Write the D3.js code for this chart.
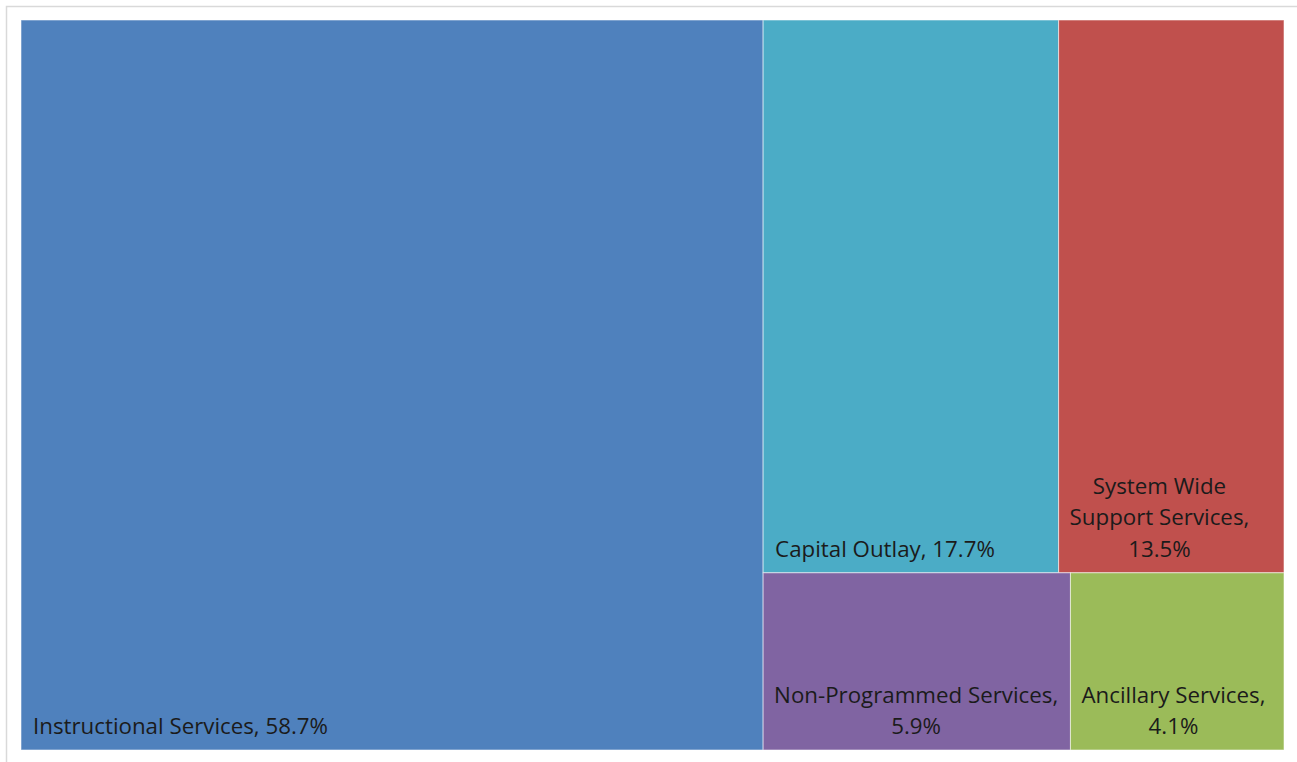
<!DOCTYPE html>
<html>
<head>
<meta charset="utf-8">
<script src="https://cdn.jsdelivr.net/npm/d3@7"></script>
<style>
  html, body { margin: 0; padding: 0; background: #ffffff; }
  svg { display: block; }
  text { font-family: "Open Sans", Lato, sans-serif; fill: #1b1b1b; }
</style>
</head>
<body>
<svg id="chart" width="1297" height="762"></svg>
<script>
// Budget share by function (percent of total)
const categories = ["Instructional Services", "Capital Outlay", "System Wide Support Services", "Non-Programmed Services", "Ancillary Services"];
const shares = [58.7, 17.7, 13.5, 5.9, 4.1];
// How each label wraps inside its tile
const labelLines = [
  ["Instructional Services, 58.7%"],
  ["Capital Outlay, 17.7%"],
  ["System Wide", "Support Services,", "13.5%"],
  ["Non-Programmed Services,", "5.9%"],
  ["Ancillary Services,", "4.1%"]
];
const colors = ["#4F81BD", "#4BACC6", "#C0504D", "#8064A2", "#9BBB59"];

const W = 1297, H = 762;
const svg = d3.select("#chart");

// Outer chart frame
svg.append("rect")
  .attr("x", 6.5).attr("y", 6.5)
  .attr("width", W + 10).attr("height", H + 10)
  .attr("fill", "#ffffff")
  .attr("stroke", "#d9d9d9").attr("stroke-width", 1.5);

// Layout: the largest share takes a full-height column; the rest is split
// into a top row and a bottom row.
const item = i => ({ name: categories[i], value: shares[i], idx: i });
const tree = {
  children: [
    item(0),
    { children: [
        { children: [item(1), item(2)] },
        { children: [item(3), item(4)] }
    ] }
  ]
};

const root = d3.hierarchy(tree).sum(d => d.value || 0);
d3.treemap()
  .size([1263, 730])
  .round(false)
  .tile((node, x0, y0, x1, y1) =>
    (node.depth % 2 ? d3.treemapSlice : d3.treemapDice)(node, x0, y0, x1, y1))(root);

const g = svg.append("g").attr("transform", "translate(21,20)");
const leaves = root.leaves();

const cell = g.selectAll("g.cell").data(leaves).join("g").attr("class", "cell");

cell.append("rect")
  .attr("x", d => d.x0).attr("y", d => d.y0)
  .attr("width", d => d.x1 - d.x0).attr("height", d => d.y1 - d.y0)
  .attr("fill", d => colors[d.data.idx])
  .attr("stroke", "#ffffff").attr("stroke-opacity", 0.55).attr("stroke-width", 1);

const fontSize = 22.3, lineH = 31.5, padX = 11, padB = 16;

cell.each(function(d) {
  const lines = labelLines[d.data.idx];
  const sel = d3.select(this);
  const t = sel.append("text").attr("font-size", fontSize);
  const spans = lines.map((s, i) => t.append("tspan").text(s));
  const widths = spans.map(s => s.node().getComputedTextLength());
  const blockW = d3.max(widths);
  const left = d.x0 + padX;
  const baseY = d.y1 - padB - (lines.length - 1) * lineH;
  spans.forEach((s, i) => {
    const x = lines.length > 1 ? left + (blockW - widths[i]) / 2 : left + 1;
    s.attr("x", x).attr("y", baseY + i * lineH);
  });
});
</script>
</body>
</html>
